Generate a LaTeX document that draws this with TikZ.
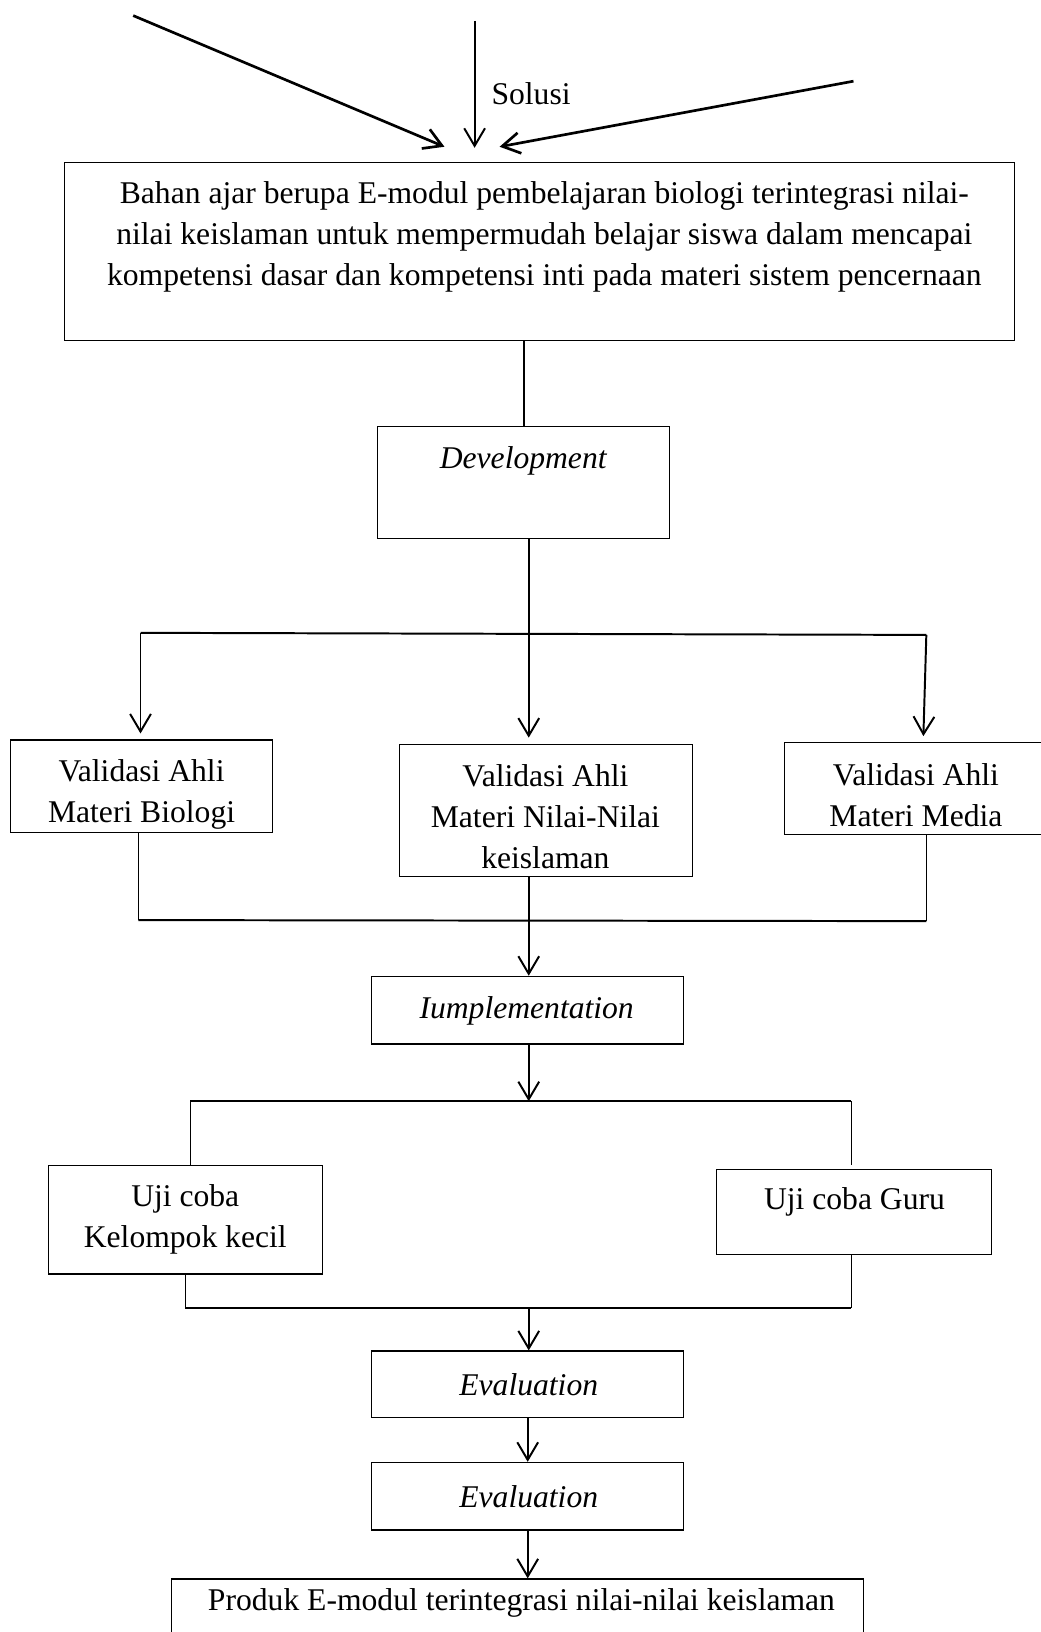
\documentclass[tikz,border=0pt]{standalone}
\usepackage{fontspec}
\setmainfont{Liberation Serif}
\usetikzlibrary{arrows.meta,fit}

\tikzset{
  box/.style={draw, line width=0.8pt, inner sep=0pt},
  txt/.style={align=center, inner sep=0pt, font=\fontsize{22.5}{29.2}\selectfont},
  conn/.style={line width=1.4pt},
  thinconn/.style={line width=0.9pt},
  arr/.style={conn, -{Straight Barb[length=4.4mm, width=5.2mm]}}
}

\begin{document}
\begin{tikzpicture}[x=0.026025cm, y=-0.026025cm]
  \clip (0,0) rectangle (1000,1568);

  % boxes
  \node (bigbox) [box, fit={(62,156) (975,327)}] {};
  \node (dev) [box, fit={(363,410) (643,517)}] {};
  \node (valbio) [box, fit={(10,711) (262,800)}] {};
  \node (valnilai) [box, fit={(384,715) (665,842)}] {};
  \node (valmedia) [box, fit={(754,713) (1003,802)}] {};
  \node (impl) [box, fit={(357,938) (657,1003)}] {};
  \node (ujikecil) [box, fit={(47,1120) (310,1224)}] {};
  \node (ujiguru) [box, fit={(688,1124) (953,1205)}] {};
  \node (eval1) [box, fit={(357,1298) (657,1362)}] {};
  \node (eval2) [box, fit={(357,1405) (657,1470)}] {};
  \node (produk) [box, fit={(165,1517) (830,1600)}] {};

  % texts
  \node (bigtxt) [txt] at (523,228) {Bahan ajar berupa E-modul pembelajaran biologi terintegrasi nilai-\\nilai keislaman untuk mempermudah belajar siswa dalam mencapai\\kompetensi dasar dan kompetensi inti pada materi sistem pencernaan};
  \node (devtxt) [txt] at (503,443) {\textit{Development}};
  \begin{scope}
    \clip (valbio.south west) rectangle (valbio.north east);
    \node (valbiotxt) [txt] at (136,763) {Validasi Ahli\\Materi Biologi};
  \end{scope}
  \begin{scope}
    \clip (valnilai.south west) rectangle (valnilai.north east);
    \node (valnilaitxt) [txt] at (524,785) {Validasi Ahli\\Materi Nilai-Nilai\\keislaman};
  \end{scope}
  \begin{scope}
    \clip (valmedia.south west) rectangle (valmedia.north east);
    \node (valmediatxt) [txt] at (880,764) {Validasi Ahli\\Materi Media};
  \end{scope}
  \node (impltxt) [txt] at (506,971) {\textit{Iumplementation}};
  \node (ujikeciltxt) [txt] at (178,1172) {Uji coba\\Kelompok kecil};
  \node (ujigurutxt) [txt] at (821,1155) {Uji coba Guru};
  \node (eval1txt) [txt] at (508,1330) {\textit{Evaluation}};
  \node (eval2txt) [txt] at (508,1438) {\textit{Evaluation}};
  \node (produktxt) [txt] at (501,1540) {Produk E-modul terintegrasi nilai-nilai keislaman};

  % top arrows
  \coordinate (src1) at (128,15);
  \coordinate (src2) at (456,20);
  \coordinate (src3) at (820,78);
  \coordinate (tip1) at (427,141);
  \coordinate (tip2) at (456,142);
  \coordinate (tip3) at (480,141);
  \draw [arr, line width=1.9pt] (src1) -- (tip1);
  \draw [arr] (src2) -- (tip2);
  \draw [arr, line width=1.9pt] (src3) -- (tip3);
  \node (solusi) [txt, anchor=west] at (472,90) {Solusi};

  \draw [conn] (dev.north |- bigbox.south) -- (dev.north);

  % split to validation
  \coordinate (jc) at (508,609);
  \coordinate (jl) at (135,608);
  \coordinate (jr) at (890,610);
  \draw [conn] (jc |- dev.south) -- (jc);
  \draw [conn] (jl) -- (jr);
  \draw [arr, shorten >=1.5mm] (jl) -- (jl |- valbio.north);
  \draw [arr, shorten >=1.5mm] (jc) -- (jc |- valnilai.north);
  \draw [arr, shorten >=1.5mm] (jr) -- (887,713);

  % merge to implementation
  \coordinate (ml) at (133,884);
  \coordinate (mr) at (890,885);
  \coordinate (mc) at (508,885);
  \draw [thinconn] (ml |- valbio.south) -- (ml);
  \draw [thinconn] (mr |- valmedia.south) -- (mr);
  \draw [conn] (ml) -- (mr);
  \draw [arr] (mc |- valnilai.south) -- (mc |- impl.north);

  % split to trials
  \coordinate (sc) at (508,1058);
  \coordinate (sl) at (183,1058);
  \coordinate (sr) at (818,1058);
  \draw [arr] (sc |- impl.south) -- (sc);
  \draw [conn] (sl) -- (sr);
  \draw [thinconn] (sl) -- (sl |- ujikecil.north);
  \draw [thinconn, shorten >=1mm] (sr) -- (sr |- ujiguru.north);

  % merge to evaluation
  \coordinate (nl) at (178,1257);
  \coordinate (nr) at (818,1257);
  \coordinate (nc) at (508,1257);
  \draw [thinconn] (nl |- ujikecil.south) -- (nl);
  \draw [thinconn] (nr |- ujiguru.south) -- (nr);
  \draw [conn] (nl) -- (nr);
  \draw [arr] (nc) -- (nc |- eval1.north);

  \draw [arr] (eval1) -- (eval2);
  \draw [arr] (eval2.south) -- (eval2.south |- produk.north);
\end{tikzpicture}
\end{document}
